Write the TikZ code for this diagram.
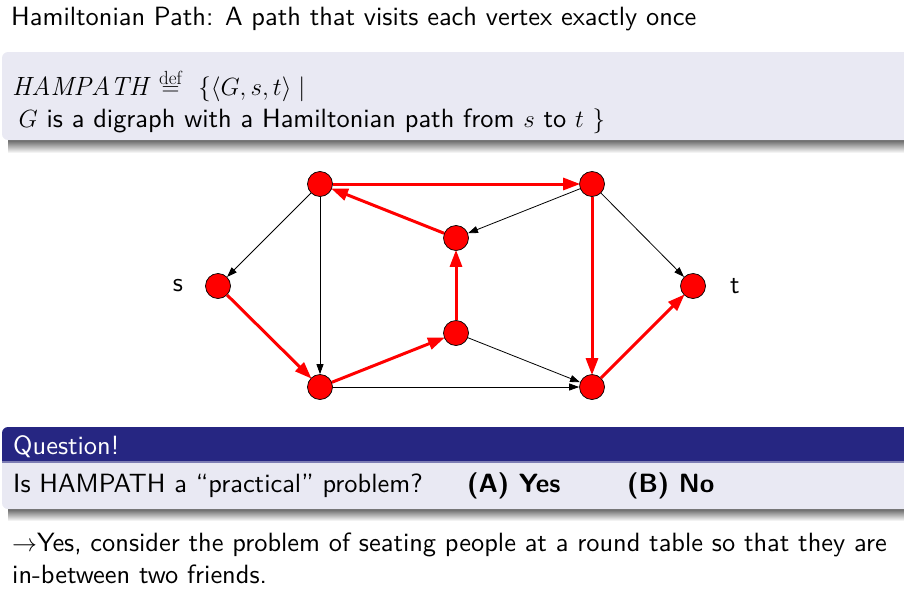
\documentclass[tikz,border=0pt]{standalone}
\usepackage{fontspec}
\setsansfont{lmsans10-regular.otf}[BoldFont=lmsans10-bold.otf,ItalicFont=lmsans10-oblique.otf]
\usetikzlibrary{arrows.meta}
\definecolor{blockbody}{RGB}{233,233,243}
\definecolor{blockhead}{RGB}{38,38,130}
\definecolor{vred}{RGB}{255,0,0}
\tikzset{
  vtx/.style={circle,fill=vred,draw=black,line width=0.7pt,minimum size=25pt,inner sep=0pt},
  hp/.style={draw=vred,line width=3pt,-{Triangle[length=17pt,width=12pt]},shorten >=-1pt},
  ne/.style={draw=black,line width=0.8pt,-{Triangle[length=10pt,width=7pt]}},
  txt/.style={anchor=base west,inner sep=0pt,font=\fontsize{26.4}{31}\selectfont\sffamily},
  lbl/.style={inner sep=0pt,font=\fontsize{26.4}{31}\selectfont\sffamily}
}
\begin{document}
\begin{tikzpicture}[x=1pt,y=-1pt]
\useasboundingbox (0,0) rectangle (904,589);
% title
\node[txt] (title) at (11,25) {Hamiltonian Path: A path that visits each vertex exactly once};
% first block shadow + body
\shade[top color=black!60,bottom color=white] (8,140) rectangle (910,153);
\fill[blockbody,rounded corners=6pt] (2,52) rectangle (920,140);
\node[txt] (def1) at (12,95) {$\mathit{HAMPATH}\mkern3mu\stackrel{\mbox{\fontsize{19}{20}\selectfont\rmfamily def}}{=}\mkern7mu\{\langle G,s,t\rangle\mid$};
\node[txt] (def2) at (14,127) {\,$G$ is a digraph with a Hamiltonian path from $s$ to $t$ $\}$};
% graph
\node[vtx] (A) at (320,184) {};
\node[vtx] (B) at (592,184) {};
\node[vtx] (C) at (456,238) {};
\node[vtx] (S) at (218,286) {};
\node[vtx] (T) at (693,286) {};
\node[vtx] (D) at (456,333) {};
\node[vtx] (E) at (320,387) {};
\node[vtx] (F) at (592,387) {};
\node[lbl] (sl) at (178,286) {s};
\node[lbl] (tl) at (735,286) {t};
\draw[ne] (A) -- (S);
\draw[ne] (A) -- (E);
\draw[ne] (B) -- (C);
\draw[ne] (B) -- (T);
\draw[ne] (D) -- (F);
\draw[ne] (E) -- (F);
\draw[hp] (A) -- (B);
\draw[hp] (C) -- (A);
\draw[hp] (S) -- (E);
\draw[hp] (E) -- (D);
\draw[hp] (D) -- (C);
\draw[hp] (B) -- (F);
\draw[hp] (F) -- (T);
% question block
\shade[top color=black!60,bottom color=white] (8,509) rectangle (910,521);
\fill[blockbody,rounded corners=6pt] (2,450) rectangle (920,509);
\fill[blockhead,rounded corners=6pt] (2,427) rectangle (920,470);
\fill[blockbody] (2,462) rectangle (920,480);
\fill[blockhead!60] (2,461) rectangle (920,463);
\node[txt,text=white] (qh) at (13,454) {Question!};
\node[txt] (q) at (13,492) {Is HAMPATH a “practical” problem?};
\node[txt] (qa) at (467,492) {\bfseries (A) Yes};
\node[txt] (qb) at (627,492) {\bfseries (B) No};
% answer
\node[txt] (ans1) at (12,551) {$\rightarrow$Yes, consider the problem of seating people at a round table so that they are};
\node[txt] (ans2) at (12,583) {in-between two friends.};
\end{tikzpicture}
\end{document}
